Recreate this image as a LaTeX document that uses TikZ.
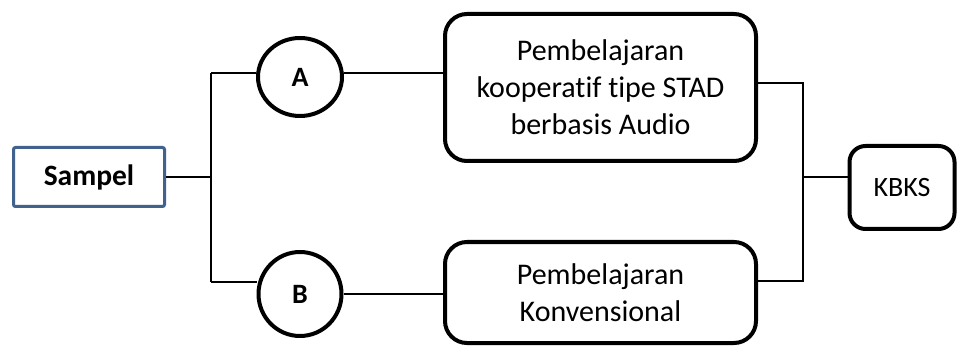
\documentclass[tikz,border=0pt]{standalone}
\usepackage{fontspec}
\setmainfont{Carlito}[Ligatures=NoCommon]
\usetikzlibrary{shapes.geometric}
\definecolor{sampelblue}{RGB}{65,98,140}
\begin{document}
\begin{tikzpicture}[x=1pt,y=-1pt,
  boxr/.style={draw, line width=4pt, rounded corners=22pt, align=center,
    font=\fontsize{30}{37}\selectfont, inner sep=0pt},
  circ/.style={draw, ellipse, line width=4pt, inner sep=0pt,
    font=\fontsize{28}{34}\selectfont\bfseries},
  conn/.style={line width=1.5pt}]
\useasboundingbox (0,0) rectangle (960,347);
\node[draw=sampelblue, line width=3pt, rounded corners=2pt, minimum width=151pt,
  minimum height=59pt, inner sep=0pt, font=\fontsize{29.5}{34}\selectfont\bfseries]
  (S) at (89,177) {Sampel};
\node[circ, minimum width=84pt, minimum height=78pt] (A) at (300,77) {A};
\node[circ, minimum width=83pt, minimum height=84pt] (B) at (300,294) {B};
\node[boxr, minimum width=311pt, minimum height=147pt] (T) at (600.5,87.5)
  {Pembelajaran\\kooperatif tipe STAD\\berbasis Audio};
\node[boxr, minimum width=311pt, minimum height=101pt] (U) at (600.5,292.5)
  {Pembelajaran\\Konvensional};
\node[boxr, rounded corners=16pt, minimum width=105pt, minimum height=83pt,
  font=\fontsize{28}{34}\selectfont] (K) at (902,187.5) {KBKS};
\coordinate (lt) at (211,73);
\coordinate (lm) at (211,177);
\coordinate (lb) at (211,282);
\coordinate (rt) at (803,83);
\coordinate (rm) at (803,177);
\coordinate (rb) at (803,281);
\draw[conn] (S.east |- lm) -- (lm);
\draw[conn] (lt) -- (lb);
\draw[conn] (lt) -- (lt -| A.west);
\draw[conn] (lb) -- (lb -| B.west);
\draw[conn] (A.east |- lt) -- (lt -| T.west);
\draw[conn] (B.east) -- (B.east -| U.west);
\draw[conn] (rt -| T.east) -- (rt) -- (rb) -- (rb -| U.east);
\draw[conn] (rm) -- (rm -| K.west);
\end{tikzpicture}
\end{document}
